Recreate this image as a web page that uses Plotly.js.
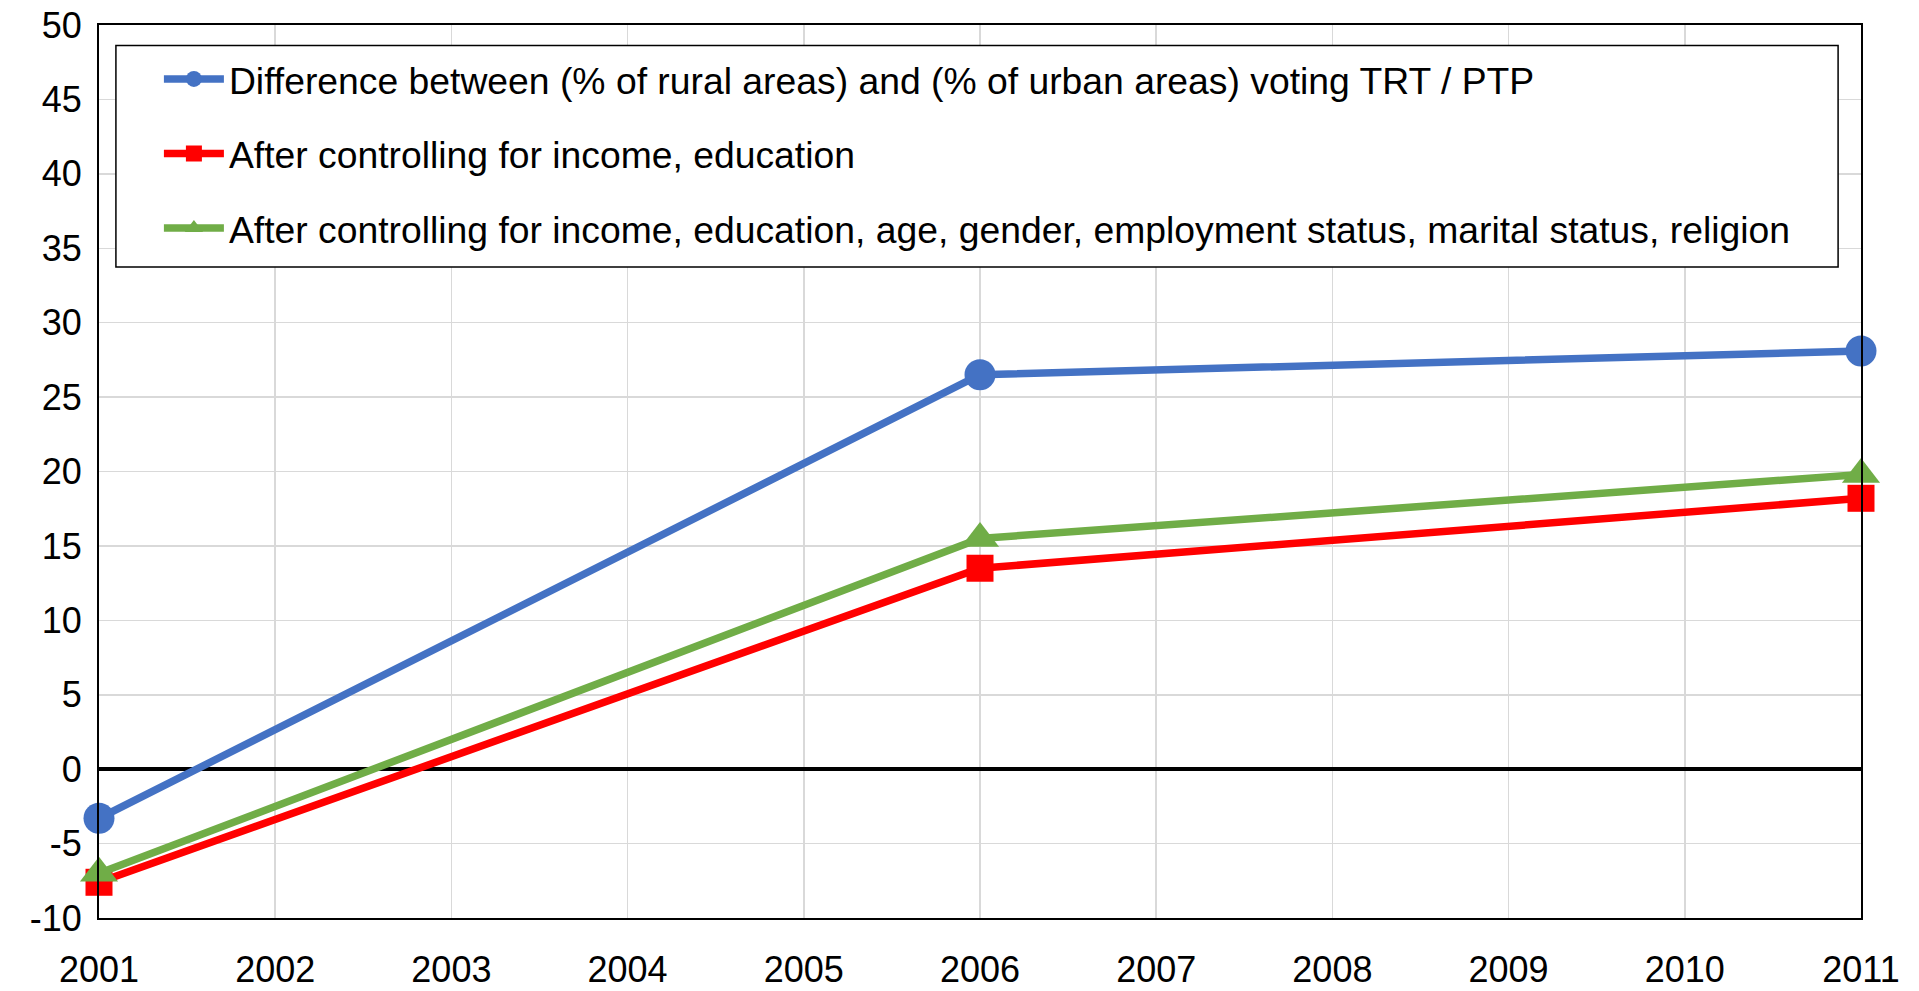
<!DOCTYPE html>
<html>
<head>
<meta charset="utf-8">
<script src="https://cdn.plot.ly/plotly-3.0.1.min.js"></script>
<style>html,body{margin:0;padding:0;background:#fff;}#chart{width:1919px;height:991px;}</style>
</head>
<body>
<div id="chart"></div>
<script>
const years = [2001, 2006, 2011];
const seriesNames = [
  "Difference between (% of rural areas) and (% of urban areas) voting TRT / PTP",
  "After controlling for income, education",
  "After controlling for income, education, age, gender, employment status, marital status, religion"
];
const rawDiff = [-3.3, 26.5, 28.1];
const incomeEdu = [-7.6, 13.5, 18.2];
const fullControls = [-7.0, 15.5, 19.8];
const xTicks = [2001, 2002, 2003, 2004, 2005, 2006, 2007, 2008, 2009, 2010, 2011];
const yTicks = [-10, -5, 0, 5, 10, 15, 20, 25, 30, 35, 40, 45, 50];

const font = "Liberation Sans, Arial, sans-serif";
const traces = [
  {x: years, y: rawDiff, name: seriesNames[0], mode: "lines+markers", legendgroup: "a",
   line: {color: "#4472C4", width: 7.5}, marker: {symbol: "circle", size: 31, color: "#4472C4"}, cliponaxis: false},
  {x: years, y: incomeEdu, name: seriesNames[1], mode: "lines+markers", legendgroup: "b",
   line: {color: "#FF0000", width: 7.5}, marker: {symbol: "square", size: 27, color: "#FF0000"}, cliponaxis: false},
  {x: years, y: fullControls, name: seriesNames[2], mode: "lines+markers", legendgroup: "c",
   line: {color: "#70AD47", width: 7.5}, marker: {symbol: "triangle-up", size: 33, color: "#70AD47"}, cliponaxis: false}
];

const layout = {
  width: 1919, height: 991,
  margin: {l: 99, r: 58, t: 25, b: 73},
  paper_bgcolor: "#fff", plot_bgcolor: "#fff",
  font: {family: font, size: 36, color: "#000"},
  showlegend: true,
  legend: {
    x: 0.034, y: 0.974, xanchor: "left", yanchor: "top",
    bgcolor: "rgba(0,0,0,0)", borderwidth: 0,
    font: {family: font, size: 37.3, color: "#000"},
    traceorder: "grouped", tracegroupgap: 23, itemwidth: 60
  },
  shapes: [{
    type: "rect", xref: "paper", yref: "paper", layer: "above",
    x0: 0.0096, x1: 0.987, y0: 0.729, y1: 0.977,
    line: {color: "#000", width: 1.5}, fillcolor: "#fff"
  }],
  xaxis: {
    range: [2001, 2011], tickvals: xTicks, ticktext: xTicks.map(String),
    showgrid: true, gridcolor: "#D9D9D9", gridwidth: 1.5,
    showline: true, mirror: true, linecolor: "#000", linewidth: 2,
    ticks: "", ticklabelstandoff: 19, zeroline: false,
    tickfont: {family: font, size: 36, color: "#000"}
  },
  yaxis: {
    range: [-10, 50], tickvals: yTicks, ticktext: yTicks.map(String),
    showgrid: true, gridcolor: "#D9D9D9", gridwidth: 1.5,
    showline: true, mirror: true, linecolor: "#000", linewidth: 2,
    zeroline: true, zerolinecolor: "#000", zerolinewidth: 4,
    ticks: "", ticklabelstandoff: 8,
    tickfont: {family: font, size: 36, color: "#000"}
  }
};
Plotly.newPlot("chart", traces, layout, {displayModeBar: false, staticPlot: true});
</script>
</body>
</html>
